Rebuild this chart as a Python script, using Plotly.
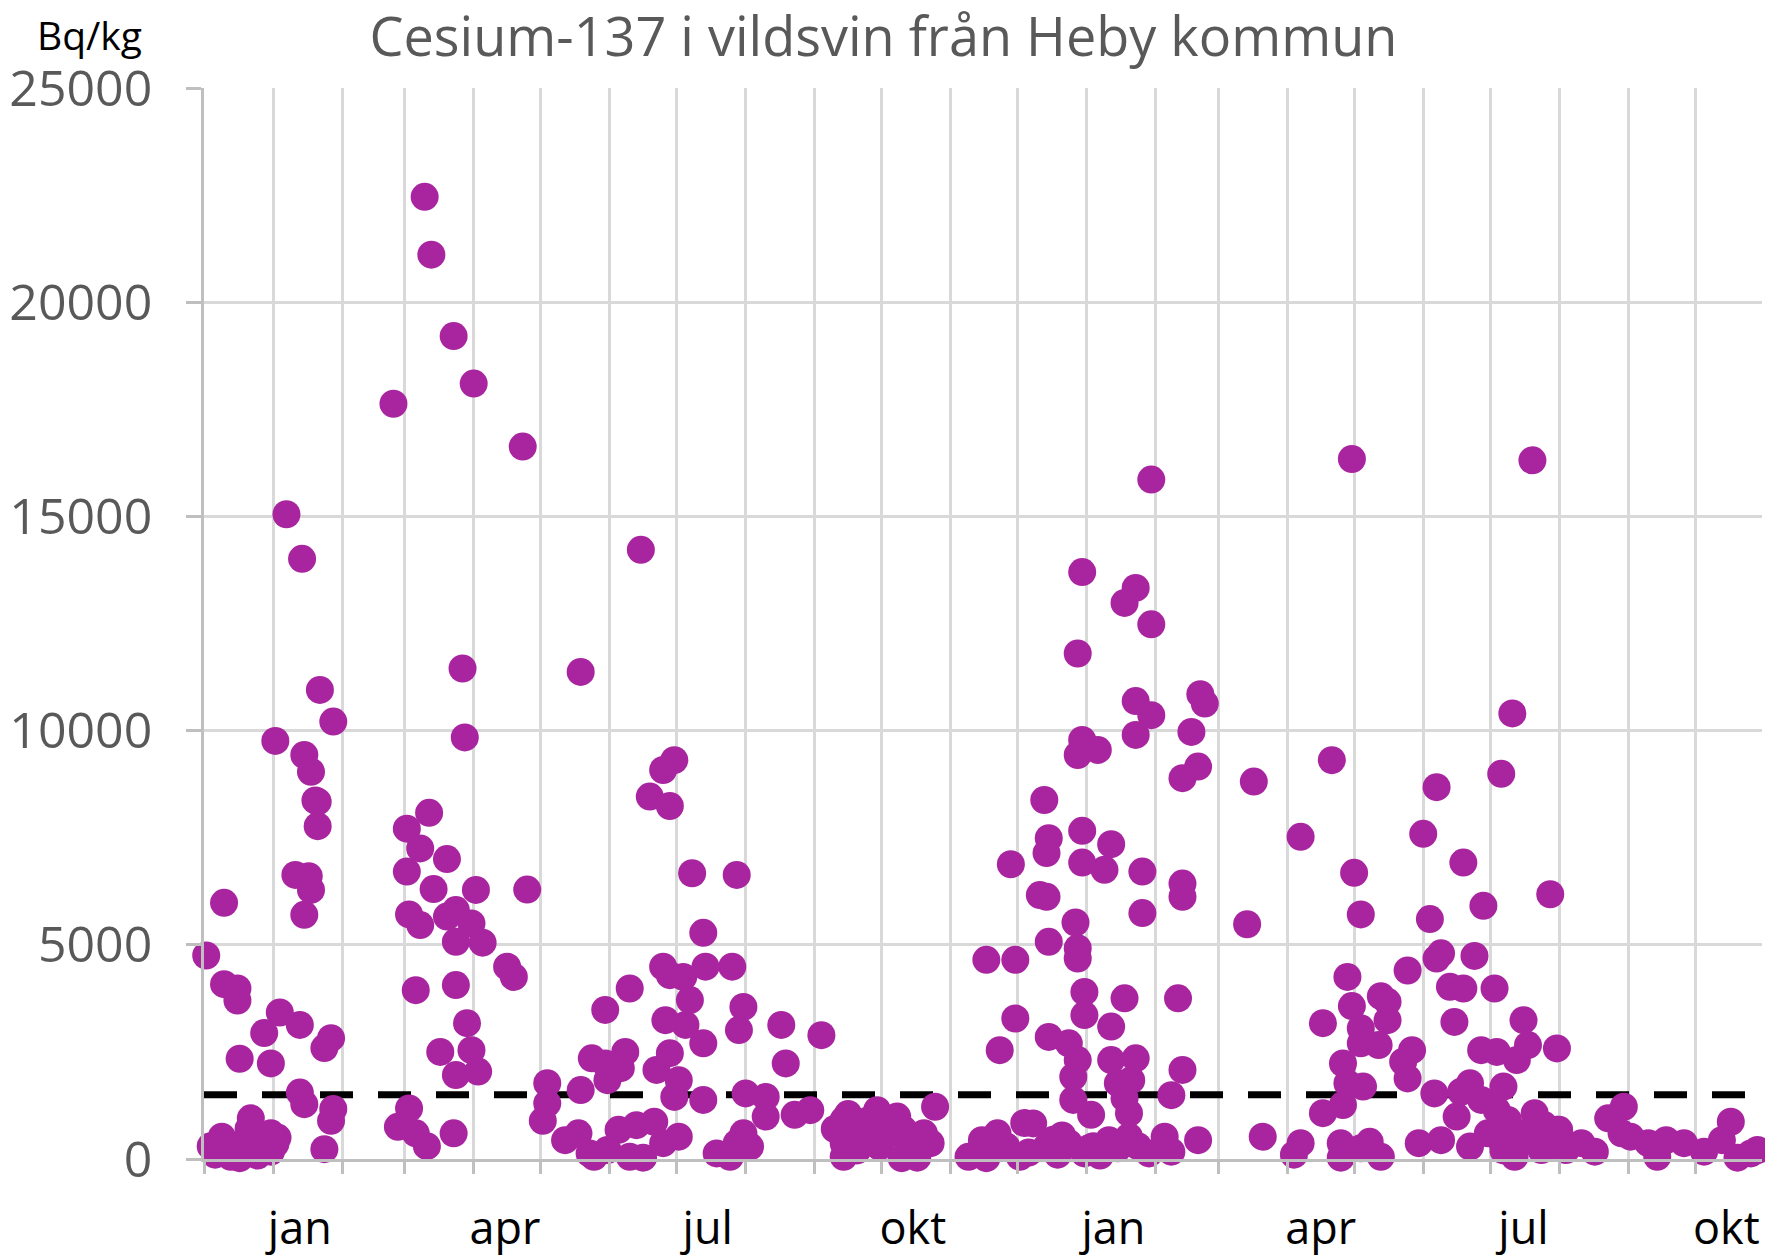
import plotly.graph_objects as go

# ---- data: (sample date, Cs-137 in Bq/kg) ----
dec_2020 = [("2020-12-02", 4750), ("2020-12-04", 300), ("2020-12-06", 100), ("2020-12-09", 520),
            ("2020-12-10", 5980), ("2020-12-10", 4080), ("2020-12-10", 150), ("2020-12-13", 50),
            ("2020-12-15", 250), ("2020-12-16", 3980), ("2020-12-16", 3700), ("2020-12-17", 2340),
            ("2020-12-17", 20), ("2020-12-19", 400), ("2020-12-21", 700), ("2020-12-22", 950),
            ("2020-12-24", 200), ("2020-12-25", 80), ("2020-12-27", 450), ("2020-12-28", 2940),
            ("2020-12-29", 300), ("2020-12-31", 2230), ("2020-12-31", 600), ("2020-12-31", 170)]
jan_2021 = [("2021-01-02", 9760), ("2021-01-02", 350), ("2021-01-03", 500), ("2021-01-04", 3420),
            ("2021-01-07", 15050), ("2021-01-11", 6630), ("2021-01-13", 1550), ("2021-01-13", 3130),
            ("2021-01-14", 14010), ("2021-01-15", 9430), ("2021-01-15", 1280), ("2021-01-15", 5700),
            ("2021-01-17", 6600), ("2021-01-18", 6280), ("2021-01-18", 9040), ("2021-01-20", 8370),
            ("2021-01-21", 8340), ("2021-01-21", 7770), ("2021-01-22", 10950), ("2021-01-24", 230),
            ("2021-01-24", 2590), ("2021-01-27", 2820), ("2021-01-27", 890), ("2021-01-28", 1170),
            ("2021-01-28", 10210)]
feb_2021 = [("2021-02-24", 17630), ("2021-02-26", 750)]
mar_2021 = [("2021-03-02", 6710), ("2021-03-02", 7710), ("2021-03-03", 5710), ("2021-03-03", 1180),
            ("2021-03-06", 600), ("2021-03-06", 3940), ("2021-03-08", 5460), ("2021-03-08", 7250),
            ("2021-03-10", 22460), ("2021-03-11", 300), ("2021-03-12", 8080), ("2021-03-13", 21110),
            ("2021-03-14", 6300), ("2021-03-17", 2500), ("2021-03-20", 7000), ("2021-03-20", 5660),
            ("2021-03-23", 600), ("2021-03-23", 19210), ("2021-03-24", 5070), ("2021-03-24", 1960),
            ("2021-03-24", 5810), ("2021-03-24", 4060), ("2021-03-27", 11450), ("2021-03-28", 9840),
            ("2021-03-29", 3170), ("2021-03-31", 2540), ("2021-03-31", 5500)]
apr_2021 = [("2021-04-01", 18100), ("2021-04-02", 6280), ("2021-04-03", 2040), ("2021-04-05", 5050),
            ("2021-04-16", 4490), ("2021-04-19", 4250), ("2021-04-23", 16630), ("2021-04-25", 6290)]
may_2021 = [("2021-05-02", 890), ("2021-05-04", 1770), ("2021-05-04", 1300), ("2021-05-12", 440),
            ("2021-05-18", 600), ("2021-05-19", 11370), ("2021-05-19", 1610), ("2021-05-23", 130),
            ("2021-05-24", 2350), ("2021-05-25", 50), ("2021-05-30", 2230), ("2021-05-30", 3480),
            ("2021-05-31", 1840), ("2021-05-31", 210)]
jun_2021 = [("2021-06-05", 680), ("2021-06-06", 2120), ("2021-06-08", 2500), ("2021-06-10", 50),
            ("2021-06-10", 3980), ("2021-06-13", 790), ("2021-06-15", 14220), ("2021-06-16", 30),
            ("2021-06-19", 8460), ("2021-06-21", 870), ("2021-06-22", 2080), ("2021-06-25", 370),
            ("2021-06-25", 9080), ("2021-06-25", 4490), ("2021-06-26", 3240), ("2021-06-28", 4290),
            ("2021-06-28", 2470), ("2021-06-28", 8240), ("2021-06-30", 9310), ("2021-06-30", 1450)]
jul_2021 = [("2021-07-02", 520), ("2021-07-02", 1840), ("2021-07-04", 4250), ("2021-07-05", 3130),
            ("2021-07-07", 3710), ("2021-07-08", 6670), ("2021-07-13", 5280), ("2021-07-13", 1380),
            ("2021-07-13", 2700), ("2021-07-14", 4490), ("2021-07-19", 130), ("2021-07-25", 50),
            ("2021-07-26", 4490), ("2021-07-28", 6630), ("2021-07-28", 370), ("2021-07-29", 3010),
            ("2021-07-31", 3550), ("2021-07-31", 600)]
aug_2021 = [("2021-08-01", 1530), ("2021-08-03", 290), ("2021-08-10", 1450), ("2021-08-10", 990),
            ("2021-08-17", 3130), ("2021-08-19", 2230), ("2021-08-23", 1030), ("2021-08-30", 1140)]
sep_2021 = [("2021-09-04", 2890), ("2021-09-10", 700), ("2021-09-14", 910), ("2021-09-14", 50),
            ("2021-09-14", 370), ("2021-09-16", 1050), ("2021-09-20", 200), ("2021-09-23", 680),
            ("2021-09-25", 900), ("2021-09-29", 1140), ("2021-09-30", 290)]
oct_2021 = [("2021-10-05", 600), ("2021-10-08", 990), ("2021-10-10", 20), ("2021-10-11", 680),
            ("2021-10-14", 440), ("2021-10-17", 30), ("2021-10-20", 600), ("2021-10-23", 370),
            ("2021-10-25", 1220)]
nov_2021 = [("2021-11-09", 50), ("2021-11-15", 440), ("2021-11-17", 20), ("2021-11-17", 4650),
            ("2021-11-22", 600), ("2021-11-23", 2540), ("2021-11-26", 290), ("2021-11-28", 6880),
            ("2021-11-30", 3280), ("2021-11-30", 4650)]
dec_2021 = [("2021-12-02", 50), ("2021-12-04", 840), ("2021-12-06", 150), ("2021-12-08", 830),
            ("2021-12-11", 6160), ("2021-12-13", 8380), ("2021-12-14", 6120), ("2021-12-14", 290),
            ("2021-12-14", 7140), ("2021-12-15", 7490), ("2021-12-15", 5070), ("2021-12-15", 2850),
            ("2021-12-17", 450), ("2021-12-19", 100), ("2021-12-21", 550), ("2021-12-24", 2700),
            ("2021-12-24", 370), ("2021-12-26", 1920), ("2021-12-26", 1380), ("2021-12-27", 5520),
            ("2021-12-28", 4920), ("2021-12-28", 4680), ("2021-12-28", 2310), ("2021-12-28", 11800),
            ("2021-12-28", 9430), ("2021-12-30", 9780), ("2021-12-30", 13700), ("2021-12-30", 7660),
            ("2021-12-30", 6920), ("2021-12-31", 3900), ("2021-12-31", 3360), ("2021-12-31", 130)]
jan_2022 = [("2022-01-02", 250), ("2022-01-03", 1030), ("2022-01-04", 300), ("2022-01-06", 9550),
            ("2022-01-07", 80), ("2022-01-09", 6750), ("2022-01-11", 440), ("2022-01-12", 3090),
            ("2022-01-12", 7350), ("2022-01-12", 2310), ("2022-01-15", 1770), ("2022-01-15", 250),
            ("2022-01-18", 3750), ("2022-01-18", 1420), ("2022-01-18", 12980), ("2022-01-20", 1070),
            ("2022-01-20", 520), ("2022-01-21", 1840), ("2022-01-23", 2350), ("2022-01-23", 13330),
            ("2022-01-23", 10690), ("2022-01-23", 9900), ("2022-01-24", 300), ("2022-01-26", 6710),
            ("2022-01-26", 5740), ("2022-01-29", 130), ("2022-01-30", 15860), ("2022-01-30", 12480),
            ("2022-01-30", 10360)]
feb_2022 = [("2022-02-05", 520), ("2022-02-08", 1490), ("2022-02-08", 170), ("2022-02-11", 3750),
            ("2022-02-13", 8890), ("2022-02-13", 6430), ("2022-02-13", 6120), ("2022-02-13", 2080),
            ("2022-02-17", 9970), ("2022-02-20", 440), ("2022-02-20", 9160), ("2022-02-21", 10850),
            ("2022-02-23", 10630)]
mar_2022 = [("2022-03-14", 5480), ("2022-03-17", 8810), ("2022-03-21", 520)]
apr_2022 = [("2022-04-04", 100), ("2022-04-07", 7520), ("2022-04-07", 370), ("2022-04-17", 3170),
            ("2022-04-17", 1070), ("2022-04-21", 9310), ("2022-04-25", 370), ("2022-04-25", 30),
            ("2022-04-26", 2230), ("2022-04-26", 1260), ("2022-04-28", 4250), ("2022-04-28", 1770),
            ("2022-04-30", 3570), ("2022-04-30", 16340)]
may_2022 = [("2022-05-01", 6680), ("2022-05-04", 5710), ("2022-05-04", 3050), ("2022-05-04", 2700),
            ("2022-05-04", 250), ("2022-05-05", 1690), ("2022-05-08", 400), ("2022-05-12", 2660),
            ("2022-05-13", 50), ("2022-05-13", 3800), ("2022-05-16", 3670), ("2022-05-16", 3240),
            ("2022-05-23", 2270), ("2022-05-25", 1880), ("2022-05-25", 4400), ("2022-05-27", 2540),
            ("2022-05-30", 370)]
jun_2022 = [("2022-06-01", 7590), ("2022-06-04", 5600), ("2022-06-06", 1530), ("2022-06-07", 8680),
            ("2022-06-07", 4680), ("2022-06-09", 4800), ("2022-06-09", 440), ("2022-06-13", 4020),
            ("2022-06-15", 3200), ("2022-06-16", 990), ("2022-06-18", 1570), ("2022-06-19", 3980),
            ("2022-06-19", 6920), ("2022-06-22", 1770), ("2022-06-22", 290), ("2022-06-24", 4740),
            ("2022-06-27", 1380), ("2022-06-27", 2540), ("2022-06-28", 5910), ("2022-06-30", 600)]
jul_2022 = [("2022-07-03", 3980), ("2022-07-04", 2500), ("2022-07-04", 1140), ("2022-07-06", 440),
            ("2022-07-06", 8990), ("2022-07-07", 1690), ("2022-07-07", 200), ("2022-07-09", 910),
            ("2022-07-11", 10400), ("2022-07-12", 50), ("2022-07-13", 2310), ("2022-07-14", 600),
            ("2022-07-16", 3240), ("2022-07-18", 440), ("2022-07-18", 2660), ("2022-07-20", 16310),
            ("2022-07-20", 500), ("2022-07-21", 1070), ("2022-07-24", 210), ("2022-07-25", 800),
            ("2022-07-27", 290), ("2022-07-28", 6180), ("2022-07-31", 2580), ("2022-07-31", 680)]
aug_2022 = [("2022-08-01", 680), ("2022-08-04", 290), ("2022-08-04", 210), ("2022-08-11", 370),
            ("2022-08-17", 170), ("2022-08-23", 950), ("2022-08-29", 600), ("2022-08-30", 1220)]
sep_2022 = [("2022-09-02", 520), ("2022-09-10", 370), ("2022-09-14", 50), ("2022-09-18", 440),
            ("2022-09-26", 370)]
oct_2022 = [("2022-10-05", 170), ("2022-10-13", 440), ("2022-10-17", 870), ("2022-10-20", 30),
            ("2022-10-26", 130), ("2022-10-29", 210)]

monthly_samples = [dec_2020, jan_2021, feb_2021, mar_2021, apr_2021, may_2021, jun_2021, jul_2021,
                   aug_2021, sep_2021, oct_2021, nov_2021, dec_2021, jan_2022, feb_2022, mar_2022,
                   apr_2022, may_2022, jun_2022, jul_2022, aug_2022, sep_2022, oct_2022]

limit_bq_kg = 1500                      # gränsvärde
axis_start, axis_end = "2020-12-01", "2022-10-31"
y_tick_values = [0, 5000, 10000, 15000, 20000, 25000]
x_label_dates = ["2021-01-13", "2021-04-15", "2021-07-15", "2021-10-15",
                 "2022-01-13", "2022-04-16", "2022-07-16", "2022-10-15"]
x_label_text = ["jan", "apr", "jul", "okt", "jan", "apr", "jul", "okt"]

title_text = "Cesium-137 i vildsvin från Heby kommun"
unit_text = "Bq/kg"

# ---- build ----
dates = [d for month in monthly_samples for d, v in month]
values = [v for month in monthly_samples for d, v in month]

PURPLE = "#A9259F"
GRID = "#D9D9D9"
AXIS = "#BFBFBF"
FONT = "Open Sans"

# the page body has an 8px default margin, so the figure is 8px smaller than the window
FIG_W, FIG_H = 1765, 1248

fig = go.Figure()
fig.add_trace(go.Scatter(
    x=[axis_start, axis_end], y=[limit_bq_kg, limit_bq_kg], mode="lines",
    line=dict(color="black", width=7, dash="33px,25px"),
    hoverinfo="skip", showlegend=False))
fig.add_trace(go.Scatter(
    x=dates, y=values, mode="markers",
    marker=dict(size=28, color=PURPLE, line=dict(width=0)),
    cliponaxis=False, showlegend=False))

fig.update_layout(
    width=FIG_W, height=FIG_H,
    margin=dict(l=196, r=11, t=80, b=97, autoexpand=False),
    paper_bgcolor="white", plot_bgcolor="white",
    title=dict(text=title_text, x=0.496, xanchor="center", y=0.992, yanchor="top",
               pad=dict(t=0, b=0),
               font=dict(family=FONT, size=54, color="#595959")),
    xaxis=dict(
        type="date", range=[axis_start, axis_end], automargin=False,
        tickmode="array", tickvals=x_label_dates, ticktext=x_label_text,
        ticks="", showgrid=False, zeroline=False,
        showline=True, linecolor=AXIS, linewidth=2.5,
        tickfont=dict(family=FONT, size=45, color="black"),
        ticklabelstandoff=28,
        minor=dict(tick0=axis_start, dtick="M1", showgrid=True, gridcolor=GRID, gridwidth=2.5,
                   ticks="outside", ticklen=12, tickcolor=AXIS, tickwidth=2.5),
    ),
    yaxis=dict(
        range=[0, 25000], tickmode="array", tickvals=y_tick_values, tickformat="d",
        automargin=False,
        showgrid=True, gridcolor=GRID, gridwidth=2.5, zeroline=False,
        showline=True, linecolor=AXIS, linewidth=2.5,
        ticks="outside", ticklen=15, tickcolor=AXIS, tickwidth=2.5,
        tickfont=dict(family=FONT, size=50, color="#595959"),
        ticklabelstandoff=24,
    ),
    annotations=[dict(text=unit_text, xref="paper", yref="paper", x=-0.0735, y=1.0495,
                      xanchor="center", yanchor="middle", showarrow=False,
                      font=dict(family=FONT, size=39, color="black"))],
)

fig.write_html("out.html")
